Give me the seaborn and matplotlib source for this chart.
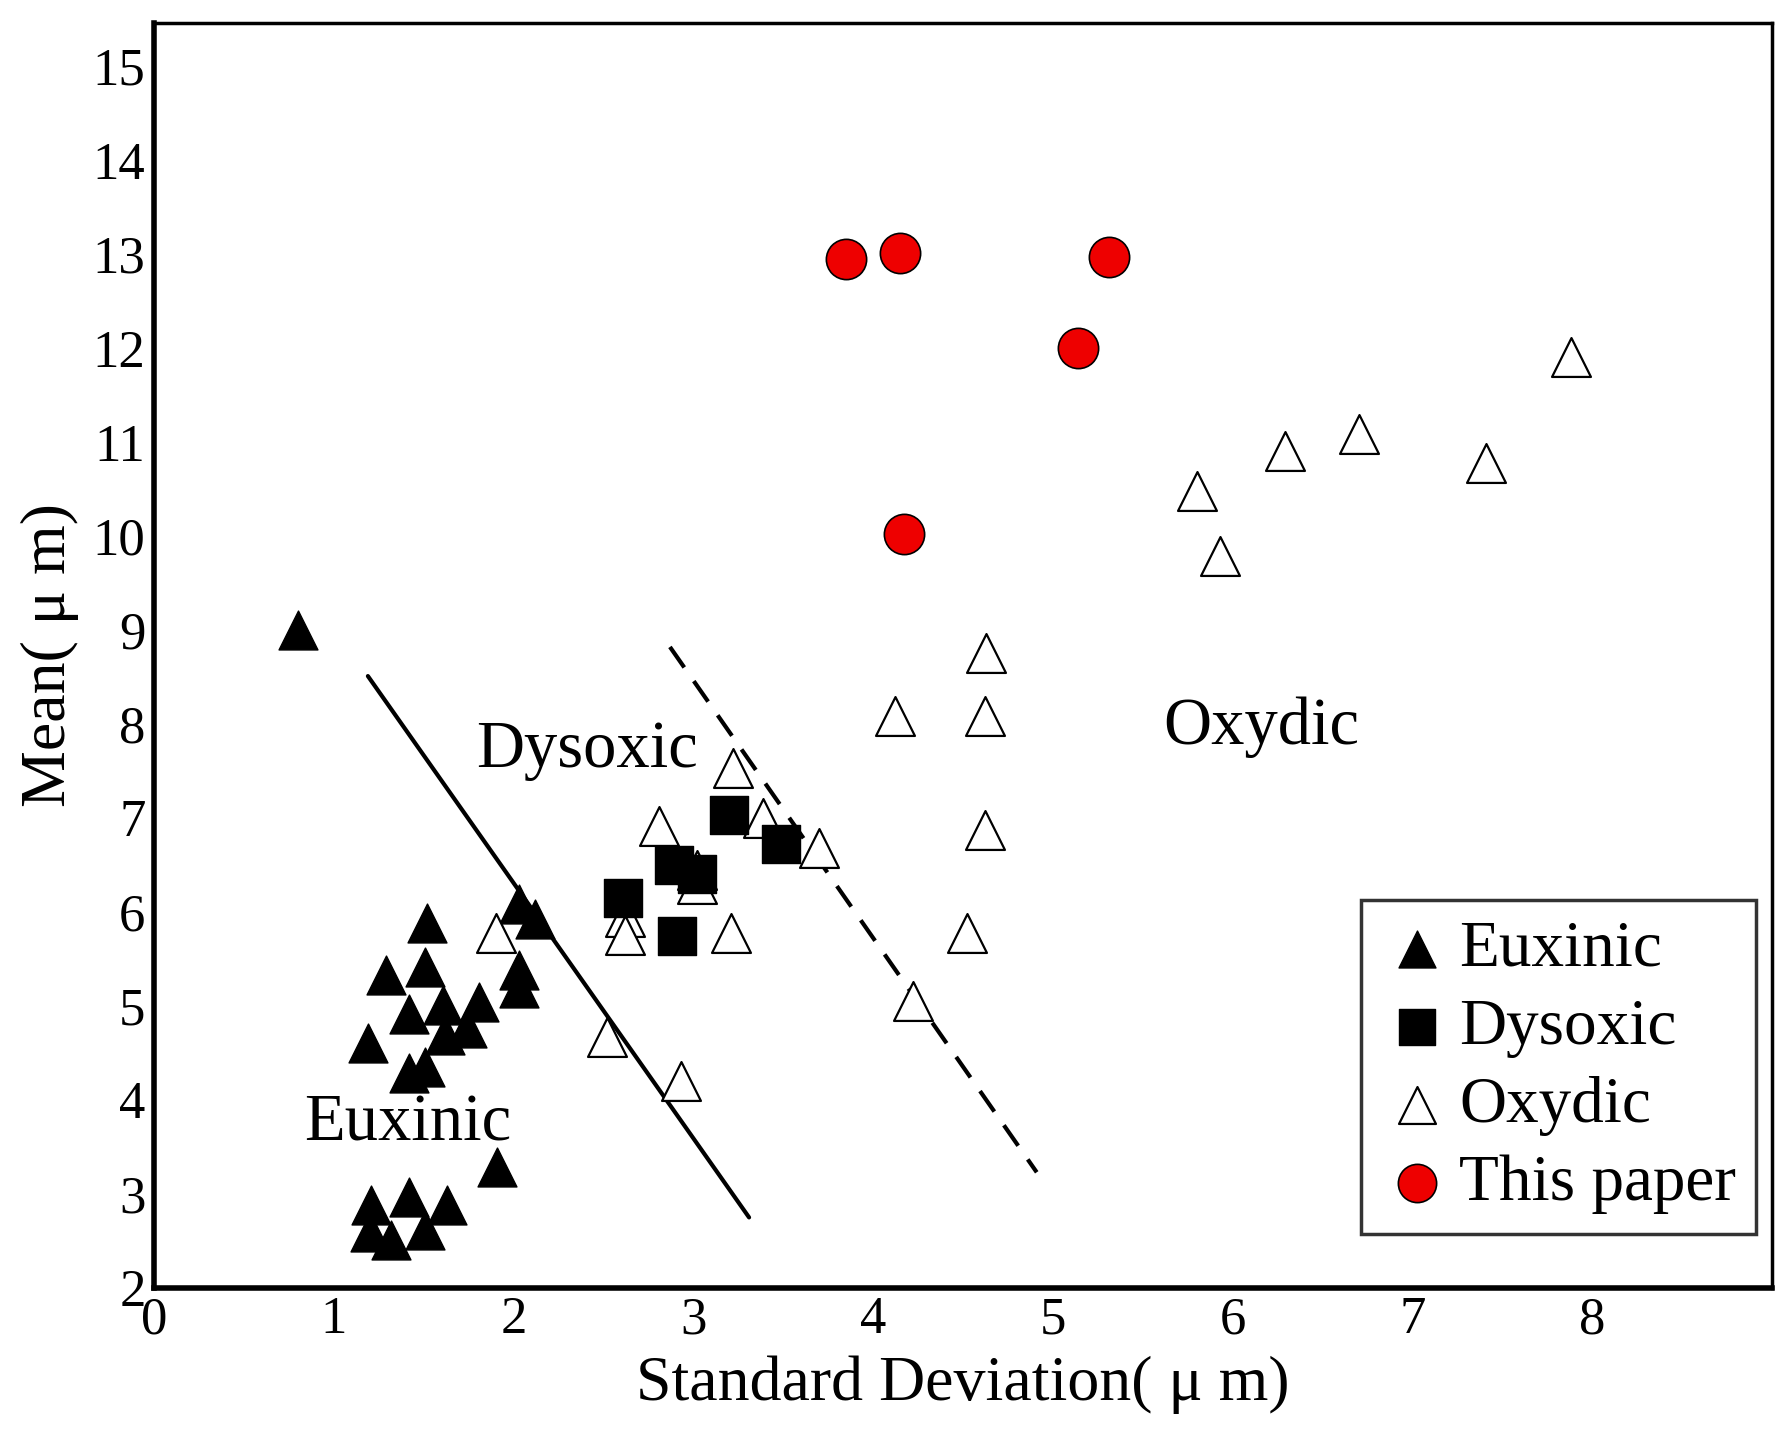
import pandas as pd
import matplotlib.pyplot as plt
import seaborn as sns

# data
euxinic_x = [0.80, 1.52, 1.29, 1.51, 1.19, 1.42, 1.61, 1.81, 1.74, 1.62, 1.51, 1.42,
             2.03, 2.12, 2.03, 2.03, 1.91, 1.21, 1.42, 1.63, 1.20, 1.32, 1.51]
euxinic_y = [9.00, 5.88, 5.33, 5.41, 4.61, 4.91, 5.01, 5.04, 4.77, 4.69, 4.35, 4.29,
             6.08, 5.92, 5.38, 5.19, 3.29, 2.88, 2.97, 2.88, 2.59, 2.51, 2.62]

dysoxic_x = [3.20, 3.49, 2.89, 3.02, 2.61, 2.91]
dysoxic_y = [7.03, 6.72, 6.50, 6.40, 6.15, 5.74]

oxydic_x = [1.90, 2.52, 2.93, 2.62, 2.62, 2.81, 3.02, 3.02, 3.21, 3.22, 3.39, 3.70,
            4.22, 4.52, 4.62, 4.62, 4.12, 4.63, 5.93, 5.80, 6.29, 6.70, 7.41, 7.88]
oxydic_y = [5.78, 4.67, 4.20, 5.95, 5.75, 6.91, 6.30, 6.45, 5.78, 7.53, 7.00, 6.68,
            5.05, 5.78, 6.87, 8.09, 8.09, 8.76, 9.79, 10.48, 10.91, 11.09, 10.78, 11.90]

paper_x = [3.85, 4.15, 5.31, 5.14, 4.17]
paper_y = [12.95, 13.01, 12.97, 12.00, 10.02]

# boundary lines
solid_x = [1.19, 3.31]
solid_y = [8.51, 2.75]
dashed_x = [2.87, 4.91]
dashed_y = [8.82, 3.23]

sns.set_style('white')
plt.rcParams['font.family'] = ['Liberation Serif', 'DejaVu Serif']
plt.rcParams['text.color'] = 'black'
plt.rcParams['axes.labelcolor'] = 'black'
plt.rcParams['xtick.color'] = 'black'
plt.rcParams['ytick.color'] = 'black'

fig = plt.figure(figsize=(17.9, 14.31), dpi=100)
ax = fig.add_axes([0.086, 0.100, 0.904, 0.884])

ax.plot(solid_x, solid_y, color='black', lw=3)
ax.plot(dashed_x, dashed_y, color='black', lw=3, ls=(0, (6, 4)))

sns.scatterplot(x=euxinic_x, y=euxinic_y, marker='^', s=28**2, color='black',
                edgecolor='black', linewidth=1, label='Euxinic', ax=ax, zorder=3)
sns.scatterplot(x=oxydic_x, y=oxydic_y, marker='^', s=28**2, color='white',
                edgecolor='black', linewidth=1.6, label='Oxydic', ax=ax, zorder=3)
sns.scatterplot(x=dysoxic_x, y=dysoxic_y, marker='s', s=27**2, color='black',
                edgecolor='black', linewidth=1, label='Dysoxic', ax=ax, zorder=4)
sns.scatterplot(x=paper_x, y=paper_y, marker='o', s=29**2, color='#ee0000',
                edgecolor='black', linewidth=1.2, label='This paper', ax=ax, zorder=5)

ax.text(2.41, 7.72, 'Dysoxic', fontsize=48, ha='center', va='center')
ax.text(1.41, 3.74, 'Euxinic', fontsize=48, ha='center', va='center')
ax.text(6.16, 7.97, 'Oxydic', fontsize=48, ha='center', va='center')

ax.set_xlim(0, 9)
ax.set_ylim(2, 15.46)
ax.set_xticks(range(0, 9))
ax.set_yticks(range(2, 16))
ax.tick_params(direction='in', length=22, width=2, labelsize=38, pad=6)
ax.set_xlabel('Standard Deviation( μ m)', fontsize=46, labelpad=8)
ax.set_ylabel('Mean( μ m)', fontsize=46, labelpad=10)
for sp in ax.spines.values():
    sp.set_linewidth(2.5)
    sp.set_color('black')
ax.spines['left'].set_linewidth(4)
ax.spines['bottom'].set_linewidth(4)

# legend order as in reference
h, l = ax.get_legend_handles_labels()
order = [l.index(n) for n in ['Euxinic', 'Dysoxic', 'Oxydic', 'This paper']]
leg = ax.legend([h[i] for i in order], [l[i] for i in order], loc='lower right',
                bbox_to_anchor=(0.99, 0.043), borderaxespad=0, fontsize=47,
                frameon=True, fancybox=False, edgecolor='black', handletextpad=0.1,
                borderpad=0.3, labelspacing=0.28, markerscale=0.95, handlelength=1.1)
leg.get_frame().set_linewidth(2.5)

fig.savefig('out.png', dpi=100)
